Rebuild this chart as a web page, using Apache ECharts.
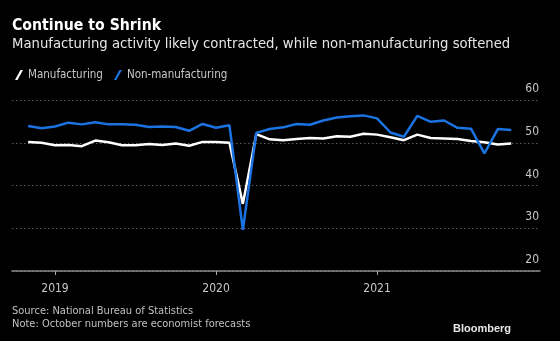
<!DOCTYPE html>
<html><head><meta charset="utf-8">
<script src="https://cdn.jsdelivr.net/npm/echarts@6/dist/echarts.min.js"></script>
<style>html,body{margin:0;padding:0;background:#000;}#c{width:560px;height:341px;}</style>
</head><body><div id="c"></div>
<script>
const months = ['2018-10','2018-11','2018-12',
 '2019-01','2019-02','2019-03','2019-04','2019-05','2019-06','2019-07','2019-08','2019-09','2019-10','2019-11','2019-12',
 '2020-01','2020-02','2020-03','2020-04','2020-05','2020-06','2020-07','2020-08','2020-09','2020-10','2020-11','2020-12',
 '2021-01','2021-02','2021-03','2021-04','2021-05','2021-06','2021-07','2021-08','2021-09','2021-10'];
const manufacturing = [50.2,50.0,49.4,
 49.5,49.2,50.5,50.1,49.4,49.4,49.7,49.5,49.8,49.3,50.2,50.2,
 50.0,35.7,52.0,50.8,50.6,50.9,51.1,51.0,51.5,51.4,52.1,51.9,
 51.3,50.6,51.9,51.1,51.0,50.9,50.4,50.1,49.6,49.8];
const nonManufacturing = [53.9,53.4,53.8,
 54.7,54.3,54.8,54.3,54.3,54.2,53.7,53.8,53.7,52.8,54.4,53.5,
 54.1,29.6,52.3,53.2,53.6,54.4,54.2,55.2,55.9,56.2,56.4,55.7,
 52.4,51.4,56.3,54.9,55.2,53.5,53.3,47.5,53.2,53.0];
const yearTicks = [2019, 2020, 2021];
const yTicks = [20, 30, 40, 50, 60];

// month-end position in fractional years
const xOf = m => { const [y, mo] = m.split('-').map(Number); return y + mo / 12; };
const pairs = arr => months.map((m, i) => [xOf(m), arr[i]]);

const FONT = '"DejaVu Sans Condensed","DejaVu Sans",sans-serif';
const chart = echarts.init(document.getElementById('c'));
chart.setOption({
  backgroundColor: '#000',
  animation: false,
  textStyle: { fontFamily: FONT },
  grid: { left: 12, right: 20, top: 100, bottom: 70 },
  legend: {
    left: 10, top: 64, itemGap: 11, itemWidth: 8, itemHeight: 11,
    textStyle: { color: '#c8c8c8', fontSize: 11.5, fontFamily: FONT },
    data: [
      { name: 'Manufacturing', icon: 'path://M0,10 L2.5,10 L8,0 L5.5,0 Z' },
      { name: 'Non-manufacturing', icon: 'path://M0,10 L2.5,10 L8,0 L5.5,0 Z' }
    ]
  },
  xAxis: {
    type: 'value', min: 2018.733, max: 2022.012,
    splitLine: { show: false },
    axisLine: { lineStyle: { color: '#8a8a8a', width: 1.5 } },
    axisTick: { show: true, length: 4, lineStyle: { color: '#aaa' }, customValues: yearTicks },
    axisLabel: { color: '#c8c8c8', fontSize: 12, margin: 12, fontFamily: FONT, customValues: yearTicks, formatter: v => String(Math.round(v)) }
  },
  yAxis: {
    type: 'value', position: 'right', min: 20, max: 60, interval: 10,
    axisLine: { show: false }, axisTick: { show: false },
    splitLine: { lineStyle: { color: '#5a5a5a', type: [1.5, 2.5], width: 1 } },
    axisLabel: { inside: true, margin: 1, color: '#c8c8c8', fontSize: 12, fontFamily: FONT, verticalAlign: 'bottom', padding: [0, 0, 5, 0],
      formatter: v => yTicks.includes(v) ? String(v) : '' }
  },
  series: [
    { name: 'Manufacturing', type: 'line', data: pairs(manufacturing), symbol: 'none', color: '#ffffff',
      lineStyle: { color: '#ffffff', width: 2.5 }, z: 3 },
    { name: 'Non-manufacturing', type: 'line', data: pairs(nonManufacturing), symbol: 'none', color: '#1a73e0',
      lineStyle: { color: '#1a73e0', width: 2.5 }, z: 4 }
  ],
  graphic: [
    { type: 'text', left: 12, top: 18, style: { text: 'Continue to Shrink', fill: '#fff', font: 'bold 15.7px ' + FONT } },
    { type: 'text', left: 12, top: 37, style: { text: 'Manufacturing activity likely contracted, while non-manufacturing softened', fill: '#e6e6e6', font: '14.7px ' + FONT } },
    { type: 'text', left: 12, top: 306, style: { text: 'Source: National Bureau of Statistics', fill: '#c0c0c0', font: '11px ' + FONT } },
    { type: 'text', left: 12, top: 319, style: { text: 'Note: October numbers are economist forecasts', fill: '#c0c0c0', font: '11px ' + FONT } },
    { type: 'text', right: 49, top: 323, style: { text: 'Bloomberg', fill: '#e6e6e6', font: 'bold 11px "Liberation Sans",Arial,sans-serif' } }
  ]
});
</script></body></html>
